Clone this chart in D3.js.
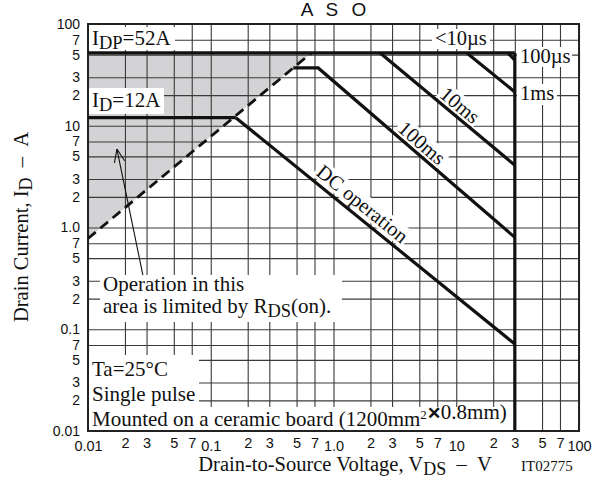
<!DOCTYPE html>
<html><head><meta charset="utf-8">
<script src="https://cdn.jsdelivr.net/npm/d3@7"></script>
<style>
body{margin:0;background:#fff}
svg{display:block}
</style></head><body>
<svg id="chart" width="604" height="484"></svg>
<script>
// Axis grid: decades and 1-2-3-5-7 subdivisions
const decades = [0.01, 0.1, 1, 10];
const gridMultipliers = [1, 2, 3, 5, 7];
const majorValues = [0.01, 0.1, 1, 10, 100];
const majorLabels = ["0.01", "0.1", "1.0", "10", "100"];
const minorMultipliers = [2, 3, 5, 7];

// Safe operating area boundaries as [V_DS (V), I_D (A)]
const idpLimit = [[0.01, 52], [30, 52]];
const idLimit = [[0.01, 12], [0.16, 12]];
const vdssLimit = [[30, 52], [30, 0.01]];
const us100Line = [[26.4, 52], [30, 44]];
const ms1Line = [[12.2, 52], [30, 21.5]];
const ms10Line = [[2.4, 52], [30, 4.1]];
const ms100Line = [[0.47, 37], [0.75, 37], [30, 0.8]];
const dcLine = [[0.16, 12], [30, 0.0716]];
const rdsOnLine = [[0.01, 0.78], [0.66, 52]];
const rdsArea = [[0.01, 52], [0.66, 52], [0.01, 0.78]];
const arrowPoints = [[0.028, 0.34], [0.0172, 5.9]];

const SERIF = '"Liberation Serif","Times New Roman",serif';
const SANS = '"Liberation Sans",Arial,sans-serif';
const NB = "\u00a0";

const svg = d3.select("#chart");
const L = 88, R = 579, T = 24, B = 431;
const x = d3.scaleLog().domain([0.01, 100]).range([L, R]);
const y = d3.scaleLog().domain([0.01, 100]).range([B, T]);

const gridValues = decades.flatMap(d => gridMultipliers.map(m => +(d * m).toPrecision(3))).concat([100]);
const minorValues = decades.flatMap(d => minorMultipliers.map(m => +(d * m).toPrecision(3)));

const line = d3.line().x(d => x(d[0])).y(d => y(d[1]));

// Title
svg.append("text").attr("x", (L + R) / 2 + 2).attr("y", 16)
  .attr("text-anchor", "middle").style("font-family", SANS).style("font-size", "19px")
  .style("letter-spacing", "4px").attr("fill", "#111").text("A S O");

// Area limited by R_DS(on)
svg.append("path").attr("d", line(rdsArea) + "Z").attr("fill", "#d3d3d5");

// Grid lines via axes
const gridX = svg.append("g").attr("transform", `translate(0,${B})`)
  .call(d3.axisBottom(x).tickValues(gridValues).tickSize(-(B - T)).tickFormat(""));
const gridY = svg.append("g").attr("transform", `translate(${L},0)`)
  .call(d3.axisLeft(y).tickValues(gridValues).tickSize(-(R - L)).tickFormat(""));
[gridX, gridY].forEach(g => {
  g.select(".domain").remove();
  g.selectAll("line").attr("stroke", "#3a3a3a").attr("stroke-width", 1.1);
});

// Tick labels
const fmtMajor = v => { const i = majorValues.indexOf(v); return i >= 0 ? majorLabels[i] : null; };
const fmtTick = v => fmtMajor(v) ?? String(Math.round(v / Math.pow(10, Math.floor(Math.log10(v) + 1e-9))));
const labelValues = majorValues.concat(minorValues);

const xLab = svg.append("g").attr("transform", `translate(0,${B})`)
  .call(d3.axisBottom(x).tickValues(labelValues).tickSize(0).tickPadding(7).tickFormat(fmtTick));
xLab.select(".domain").remove();
xLab.selectAll("text").style("font-family", SANS).style("font-size", "14.5px").attr("fill", "#111")
  .attr("dy", d => majorValues.includes(d) ? "0.93em" : "0.71em");

const yLab = svg.append("g").attr("transform", `translate(${L},0)`)
  .call(d3.axisLeft(y).tickValues(labelValues).tickSize(0).tickPadding(8).tickFormat(fmtTick));
yLab.select(".domain").remove();
yLab.selectAll("text").style("font-family", SANS).style("font-size", "14px").attr("fill", "#111");

// White label panels that cut the grid
function panel(x0, y0, x1, y1) {
  svg.append("rect").attr("x", x0).attr("y", y0).attr("width", x1 - x0).attr("height", y1 - y0).attr("fill", "#fff");
}
panel(L + 1, 27, 175, 50);      // I_DP
panel(L + 1, 88, 164, 114);     // I_D
panel(432, 29, 490, 49);        // <10us
panel(517, 47, 572, 67);        // 100us
panel(517, 84, 557, 105);       // 1ms
panel(100, 275, 342, 322);      // R_DS(on) note
panel(L + 1, 355, 199, B - 1);  // conditions
panel(L + 1, 407, 513, B - 1);

// Plot frame
svg.append("rect").attr("x", L).attr("y", T).attr("width", R - L).attr("height", B - T)
  .attr("fill", "none").attr("stroke", "#222").attr("stroke-width", 2);

// Boundary lines
const thick = [idpLimit, idLimit, vdssLimit, us100Line, ms1Line, ms10Line, ms100Line, dcLine];
thick.forEach(d => svg.append("path").attr("d", line(d)).attr("fill", "none")
  .attr("stroke", "#111").attr("stroke-width", 3.2).attr("stroke-linejoin", "miter"));
svg.append("path").attr("d", line(rdsOnLine)).attr("fill", "none")
  .attr("stroke", "#111").attr("stroke-width", 2.8).attr("stroke-dasharray", "10,6");

// Text helper with subscript / superscript runs: parts = [[text, isSub, isSup], ...]
function richText(parent, px, py, parts, size, anchor) {
  const t = parent.append("text").attr("x", px).attr("y", py)
    .style("font-family", SERIF).style("font-size", size + "px").attr("fill", "#111")
    .attr("text-anchor", anchor || "start");
  let shifted = false;
  parts.forEach(([s, sub, sup]) => {
    const ts = t.append("tspan").text(s);
    if (sub && !shifted) { ts.attr("dy", 4).style("font-size", (size * 0.88) + "px"); shifted = "sub"; }
    else if (sup && !shifted) { ts.attr("dy", -7).style("font-size", (size * 0.62) + "px"); shifted = "sup"; }
    else if (!sub && !sup && shifted) { ts.attr("dy", shifted === "sub" ? -4 : 7); shifted = false; }
  });
  return t;
}

richText(svg, 92, 45, [["I"], ["DP", true], ["=52A"]], 21);
richText(svg, 92, 107, [["I"], ["D", true], ["=12A"]], 21);
richText(svg, 435, 45, [["<10µs"]], 20.5);
richText(svg, 520, 63, [["100µs"]], 20.5);
richText(svg, 520, 100, [["1ms"]], 20.5);

richText(svg, 103, 291, [["Operation in this"]], 21);
richText(svg, 103, 313, [["area is limited by R"], ["DS", true], ["(on)."]], 21);

richText(svg, 92, 376, [["Ta=25°C"]], 21);
richText(svg, 92, 401, [["Single pulse"]], 21);
const mt = richText(svg, 92, 426, [["Mounted on a ceramic board (1200mm"], ["2", false, true], [""]], 21);
mt.append("tspan").style("font-family", SANS).style("font-weight", "bold").style("font-size", "17px").text("✕");
mt.append("tspan").text("0.8mm)");

// Rotated labels along the time-limited lines
function slopeLabel(data, v, offset, label) {
  const p0 = data[data.length - 2], p1 = data[data.length - 1];
  const ang = Math.atan2(y(p1[1]) - y(p0[1]), x(p1[0]) - x(p0[0])) * 180 / Math.PI;
  const lx = x(v);
  const t = (lx - x(p0[0])) / (x(p1[0]) - x(p0[0]));
  const ly = y(p0[1]) + t * (y(p1[1]) - y(p0[1]));
  const g = svg.append("g").attr("transform", `translate(${lx},${ly}) rotate(${ang})`);
  const txt = g.append("text").attr("x", 0).attr("y", -offset).attr("text-anchor", "middle")
    .style("font-family", SERIF).style("font-size", "20.5px").attr("fill", "#111").text(label);
  const bb = txt.node().getBBox();
  g.insert("rect", "text").attr("x", bb.x - 2).attr("y", bb.y + 1).attr("width", bb.width + 4)
    .attr("height", bb.height - 3).attr("fill", "#fff");
}
slopeLabel(ms10Line, 9.4, 4, "10ms");
slopeLabel(ms100Line, 4.6, 4, "100ms");
slopeLabel(dcLine, 1.48, 6, "DC operation");

// Arrow pointing into the R_DS(on) limited area
const [a0, a1] = arrowPoints;
const ax0 = x(a0[0]), ay0 = y(a0[1]), ax1 = x(a1[0]), ay1 = y(a1[1]);
svg.append("line").attr("x1", ax0).attr("y1", ay0).attr("x2", ax1).attr("y2", ay1)
  .attr("stroke", "#111").attr("stroke-width", 1.1);
const dir = Math.atan2(ay0 - ay1, ax0 - ax1);
[-0.38, 0.38].forEach(da => {
  svg.append("line").attr("x1", ax1).attr("y1", ay1)
    .attr("x2", ax1 + 14 * Math.cos(dir + da)).attr("y2", ay1 + 14 * Math.sin(dir + da))
    .attr("stroke", "#111").attr("stroke-width", 1.1);
});

// Axis titles
const yt = svg.append("text").attr("transform", "translate(28,227) rotate(-90)").attr("text-anchor", "middle")
  .style("font-family", SERIF).style("font-size", "20.5px").attr("fill", "#111");
yt.append("tspan").text("Drain Current, I");
yt.append("tspan").attr("dy", 4).style("font-size", "18px").text("D");
yt.append("tspan").attr("dy", -4).text(NB + NB + "–" + NB + NB + "A");

const xt = svg.append("text").attr("x", 345).attr("y", 471).attr("text-anchor", "middle")
  .style("font-family", SERIF).style("font-size", "20.5px").attr("fill", "#111");
xt.append("tspan").text("Drain-to-Source Voltage, V");
xt.append("tspan").attr("dy", 4).style("font-size", "18px").text("DS");
xt.append("tspan").attr("dy", -4).text(NB + NB + "–" + NB + NB + "V");

svg.append("text").attr("x", 521).attr("y", 471).style("font-family", SERIF)
  .style("font-size", "15px").attr("fill", "#111").text("IT02775");
</script>
</body></html>
